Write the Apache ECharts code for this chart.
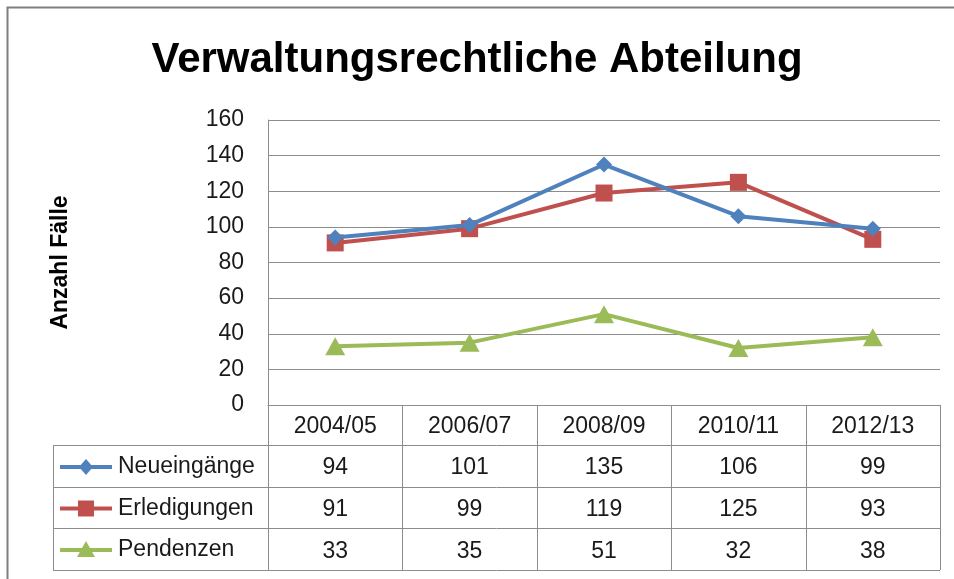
<!DOCTYPE html>
<html>
<head>
<meta charset="utf-8">
<script src="https://cdn.jsdelivr.net/npm/echarts@6/dist/echarts.min.js"></script>
<style>
  html, body { margin: 0; padding: 0; background: #fff; }
  #chart { width: 954px; height: 579px; }
</style>
</head>
<body>
<div id="chart"></div>
<script>
var categories = ['2004/05', '2006/07', '2008/09', '2010/11', '2012/13'];
var neueingaenge = [94, 101, 135, 106, 99];
var erledigungen = [91, 99, 119, 125, 93];
var pendenzen = [33, 35, 51, 32, 38];
var seriesNames = ['Neueingänge', 'Erledigungen', 'Pendenzen'];
var seriesColors = ['#4F81BD', '#C0504D', '#9BBB59'];
var seriesSymbols = ['diamond', 'rect', 'triangle'];

var FONT = '"Liberation Sans", Arial, sans-serif';
var gridColor = '#8c8c8c';
var gLeft = 268, gRight = 940, gTop = 120, gBottom = 405;
var rowLines = [405, 445, 487, 528, 570];
var tableLeft = 53;

var chart = echarts.init(document.getElementById('chart'));

// Tabellen-Linien und Legende
var graphics = [];
// aeusserer Rahmen
graphics.push({ type: 'polyline', shape: { points: [[7.5, 579], [7.5, 7.5], [954, 7.5]] },
  style: { stroke: '#7f7f7f', lineWidth: 2, fill: null } });
for (var r = 1; r < rowLines.length; r++) {
  graphics.push({ type: 'line', shape: { x1: tableLeft, y1: rowLines[r] + 0.5, x2: gRight, y2: rowLines[r] + 0.5 },
    style: { stroke: gridColor, lineWidth: 1 } });
}
graphics.push({ type: 'line', shape: { x1: tableLeft + 0.5, y1: rowLines[1], x2: tableLeft + 0.5, y2: rowLines[4] },
  style: { stroke: gridColor, lineWidth: 1 } });
var colW = (gRight - gLeft) / categories.length;
for (var c = 0; c <= categories.length; c++) {
  var x = Math.round(gLeft + c * colW) + 0.5;
  graphics.push({ type: 'line', shape: { x1: x, y1: gBottom, x2: x, y2: rowLines[4] },
    style: { stroke: gridColor, lineWidth: 1 } });
}
// Legendenschluessel in der Tabelle
seriesNames.forEach(function (name, i) {
  var cy = (rowLines[i + 1] + rowLines[i + 2]) / 2 + 1;
  graphics.push({ type: 'line', shape: { x1: 60, y1: cy, x2: 112, y2: cy },
    style: { stroke: seriesColors[i], lineWidth: 4 } });
  var sym = seriesSymbols[i];
  if (sym === 'diamond') {
    graphics.push({ type: 'polygon', shape: { points: [[86, cy - 8], [93, cy], [86, cy + 8], [79, cy]] },
      style: { fill: seriesColors[i] } });
  } else if (sym === 'rect') {
    graphics.push({ type: 'rect', shape: { x: 78, y: cy - 8, width: 16, height: 16 },
      style: { fill: seriesColors[i] } });
  } else {
    graphics.push({ type: 'polygon', shape: { points: [[86, cy - 9], [95, cy + 7], [77, cy + 7]] },
      style: { fill: seriesColors[i] } });
  }
  graphics.push({ type: 'text', x: 118, y: cy, style: { text: name, font: '23px ' + FONT,
    fill: '#1a1a1a', verticalAlign: 'middle', align: 'left' } });
});

var seriesData = [neueingaenge, erledigungen, pendenzen];
var series = seriesNames.map(function (name, i) {
  return {
    name: name,
    type: 'line',
    data: seriesData[i],
    symbol: seriesSymbols[i],
    symbolSize: i === 2 ? [20, 18] : (i === 0 ? 16 : 17),
    showAllSymbol: true,
    lineStyle: { color: seriesColors[i], width: 4 },
    itemStyle: { color: seriesColors[i] },
    z: 3 - i + 2
  };
});

var option = {
  animation: false,
  backgroundColor: '#fff',
  title: {
    text: 'Verwaltungsrechtliche Abteilung',
    left: 'center',
    top: 34,
    textStyle: { fontFamily: FONT, fontWeight: 'bold', fontSize: 42, color: '#000' }
  },
  grid: { left: gLeft, right: 954 - gRight, top: gTop, bottom: 579 - gBottom },
  xAxis: {
    type: 'category',
    data: categories,
    boundaryGap: true,
    axisLine: { show: true, lineStyle: { color: gridColor, width: 1 } },
    axisTick: { show: false },
    splitLine: { show: false },
    axisLabel: {
      margin: 1,
      interval: 0,
      formatter: function (value, idx) {
        return '{h|' + value + '}\n{v|' + neueingaenge[idx] + '}\n{v|' + erledigungen[idx] + '}\n{v|' + pendenzen[idx] + '}';
      },
      rich: {
        h: { fontFamily: FONT, fontSize: 23, color: '#1a1a1a', lineHeight: 41, align: 'center' },
        v: { fontFamily: FONT, fontSize: 23, color: '#1a1a1a', lineHeight: 41.7, align: 'center' }
      }
    }
  },
  yAxis: {
    type: 'value',
    min: 0,
    max: 160,
    interval: 20,
    name: 'Anzahl Fälle',
    nameLocation: 'middle',
    nameRotate: 90,
    nameGap: 196,
    nameTextStyle: { fontFamily: FONT, fontWeight: 'bold', fontSize: 23, color: '#000' },
    axisLine: { show: true, lineStyle: { color: gridColor, width: 1 } },
    axisTick: { show: false },
    splitLine: { show: true, lineStyle: { color: gridColor, width: 1 } },
    axisLabel: { margin: 24, fontFamily: FONT, fontSize: 23, color: '#1a1a1a' }
  },
  graphic: graphics,
  series: series
};
chart.setOption(option);
</script>
</body>
</html>
